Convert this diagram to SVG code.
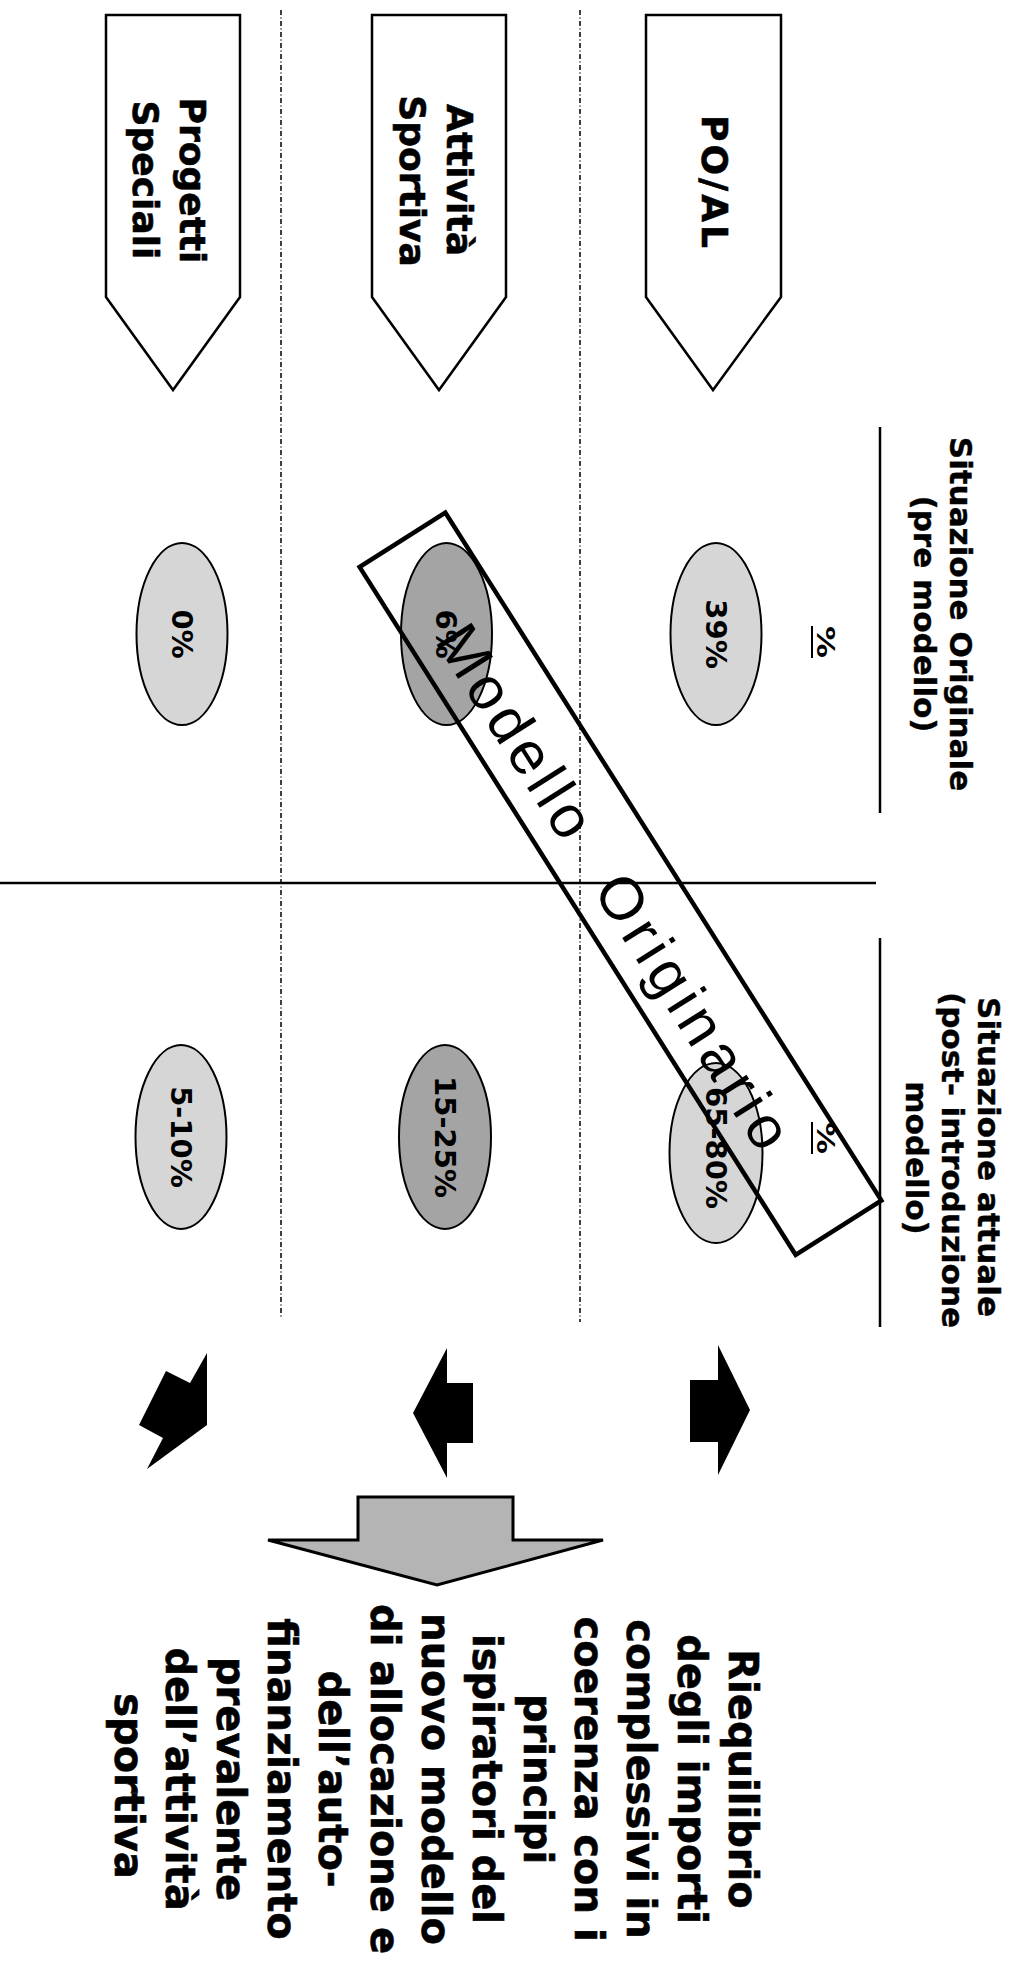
<svg xmlns="http://www.w3.org/2000/svg" width="1016" height="1977" viewBox="0 0 1016 1977">
<style>
.bg{fill:#ffffff}
.pent{fill:#ffffff;stroke:#000;stroke-width:2.5;stroke-linejoin:miter}
.hdr{font-family:"DejaVu Sans",Verdana,sans-serif;font-weight:bold;font-size:36px;fill:#000;stroke:#000;stroke-width:0.6;text-anchor:middle}
.col{font-family:"DejaVu Sans",Verdana,sans-serif;font-weight:bold;font-size:31px;fill:#000;stroke:#000;stroke-width:0.4;text-anchor:middle}
.pct{font-family:"DejaVu Sans",Verdana,sans-serif;font-weight:bold;font-size:25px;fill:#000;text-anchor:middle}
.ell-l{fill:#d6d6d6;stroke:#000;stroke-width:2}
.ell-d{fill:#a4a4a4;stroke:#000;stroke-width:2}
.elt{font-family:"DejaVu Sans",Verdana,sans-serif;font-weight:bold;font-size:29px;fill:#000;text-anchor:middle}
.body{font-family:"DejaVu Sans",Verdana,sans-serif;font-weight:bold;font-size:40px;fill:#000;stroke:#000;stroke-width:0.6;text-anchor:middle}
.dash{stroke:#000;stroke-width:1.5;stroke-dasharray:5 2.5 1 2.5;fill:none}
.axis{stroke:#000;stroke-width:2.5;fill:none}
.blk{fill:#000;stroke:none}
.gray{fill:#b4b4b4;stroke:#000;stroke-width:3;stroke-linejoin:miter}
.mod{font-family:"Liberation Sans",Arial,sans-serif;font-size:60px;fill:#000}
</style>
<rect class="bg" x="0" y="0" width="1016" height="1977"/>

<g id="grid">
  <line class="dash" x1="281" y1="10" x2="281" y2="1318"/>
  <line class="dash" x1="580" y1="10" x2="580" y2="1322"/>
  <line class="axis" x1="0" y1="883" x2="876" y2="883"/>
  <line class="axis" x1="880" y1="427" x2="880" y2="813"/>
  <line class="axis" x1="880" y1="938" x2="880" y2="1327"/>
</g>

<g id="node-progetti">
  <polygon class="pent" points="106,15 240,15 240,297 173,390 106,297"/>
  <text class="hdr" transform="rotate(90)"><tspan x="180.5" y="-180">Progetti</tspan><tspan x="180" y="-133">Speciali</tspan></text>
</g>
<g id="node-attivita">
  <polygon class="pent" points="372,15 506,15 506,297 439,390 372,297"/>
  <text class="hdr" transform="rotate(90)"><tspan x="180" y="-447">Attività</tspan><tspan x="181" y="-400">Sportiva</tspan></text>
</g>
<g id="node-poal">
  <polygon class="pent" points="646,15 781,15 781,297 713,390 646,297"/>
  <text class="hdr" transform="rotate(90)" x="181.5" y="-702" textLength="133" lengthAdjust="spacing">PO/AL</text>
</g>

<g id="header-originale">
  <text class="col" transform="rotate(90)"><tspan x="614" y="-950">Situazione Originale</tspan><tspan x="614" y="-914">(pre modello)</tspan></text>
  <text class="pct" transform="rotate(90)" x="642" y="-817" textLength="32" lengthAdjust="spacingAndGlyphs">%</text>
  <line stroke="#000" stroke-width="2" x1="812" y1="626" x2="812" y2="658"/>
</g>
<g id="header-attuale">
  <text class="col" transform="rotate(90)"><tspan x="1157" y="-978">Situazione attuale</tspan><tspan x="1160" y="-942">(post- introduzione</tspan><tspan x="1158" y="-906">modello)</tspan></text>
  <text class="pct" transform="rotate(90)" x="1138" y="-817" textLength="32" lengthAdjust="spacingAndGlyphs">%</text>
  <line stroke="#000" stroke-width="2" x1="812" y1="1122" x2="812" y2="1154"/>
</g>

<g id="node-e-progetti-pre">
  <ellipse class="ell-l" cx="182" cy="634" rx="45.5" ry="91"/>
  <text class="elt" transform="rotate(90)" x="634" y="-171.5">0%</text>
</g>
<g id="node-e-attivita-pre">
  <ellipse class="ell-d" cx="446.5" cy="634" rx="45.5" ry="91"/>
  <text class="elt" transform="rotate(90)" x="634" y="-436">6%</text>
</g>
<g id="node-e-poal-pre">
  <ellipse class="ell-l" cx="716" cy="634" rx="45.5" ry="91"/>
  <text class="elt" transform="rotate(90)" x="634" y="-705.5">39%</text>
</g>
<g id="node-e-progetti-post">
  <ellipse class="ell-l" cx="181" cy="1137" rx="45.5" ry="92"/>
  <text class="elt" transform="rotate(90)" x="1137" y="-170.5">5-10%</text>
</g>
<g id="node-e-attivita-post">
  <ellipse class="ell-d" cx="445" cy="1137" rx="46" ry="92"/>
  <text class="elt" transform="rotate(90)" x="1137" y="-434.5">15-25%</text>
</g>
<g id="node-e-poal-post">
  <ellipse class="ell-l" cx="716" cy="1153" rx="46.5" ry="90"/>
  <text class="elt" transform="rotate(90)" x="1148" y="-705.5">65-80%</text>
</g>

<g id="node-modello-originario" transform="translate(620.5,883.75) rotate(57.63)">
  <rect x="-407.25" y="-50.75" width="814.5" height="101.5" fill="none" stroke="#000" stroke-width="4.5"/>
  <text class="mod" x="-305" y="27.5" textLength="240" lengthAdjust="spacing">Modello</text>
  <text class="mod" x="-10" y="27.5" textLength="313" lengthAdjust="spacing">Originario</text>
</g>

<g id="connectors">
  <polygon class="blk" points="207,1353 207,1425 147,1469 163,1438 139,1425 166,1371 190,1383"/>
  <polygon class="blk" points="473,1383 473,1443 447,1443 447,1478 413,1413 447,1348 447,1383"/>
  <polygon class="blk" points="690,1380 718,1380 718,1345 750,1410 718,1475 718,1442 690,1442"/>
  <polygon class="gray" points="358,1497 513,1497 513,1540 603,1540 437,1585 268,1540 358,1540"/>
</g>

<g id="node-conclusione">
  <text class="body" transform="rotate(90)">
    <tspan x="1786" y="-729">Riequilibrio</tspan>
    <tspan x="1786" y="-677.8">degli importi</tspan>
    <tspan x="1786" y="-626.6">complessivi in</tspan>
    <tspan x="1786" y="-575.4">coerenza con i</tspan>
    <tspan x="1786" y="-524.2">principi</tspan>
    <tspan x="1786" y="-473">ispiratori del</tspan>
    <tspan x="1786" y="-421.8">nuovo modello</tspan>
    <tspan x="1786" y="-370.6">di allocazione e</tspan>
    <tspan x="1786" y="-319.4">dell’auto-</tspan>
    <tspan x="1786" y="-268.2">finanziamento</tspan>
    <tspan x="1786" y="-217">prevalente</tspan>
    <tspan x="1786" y="-165.8">dell’attività</tspan>
    <tspan x="1786" y="-114.6">sportiva</tspan>
  </text>
</g>
</svg>
